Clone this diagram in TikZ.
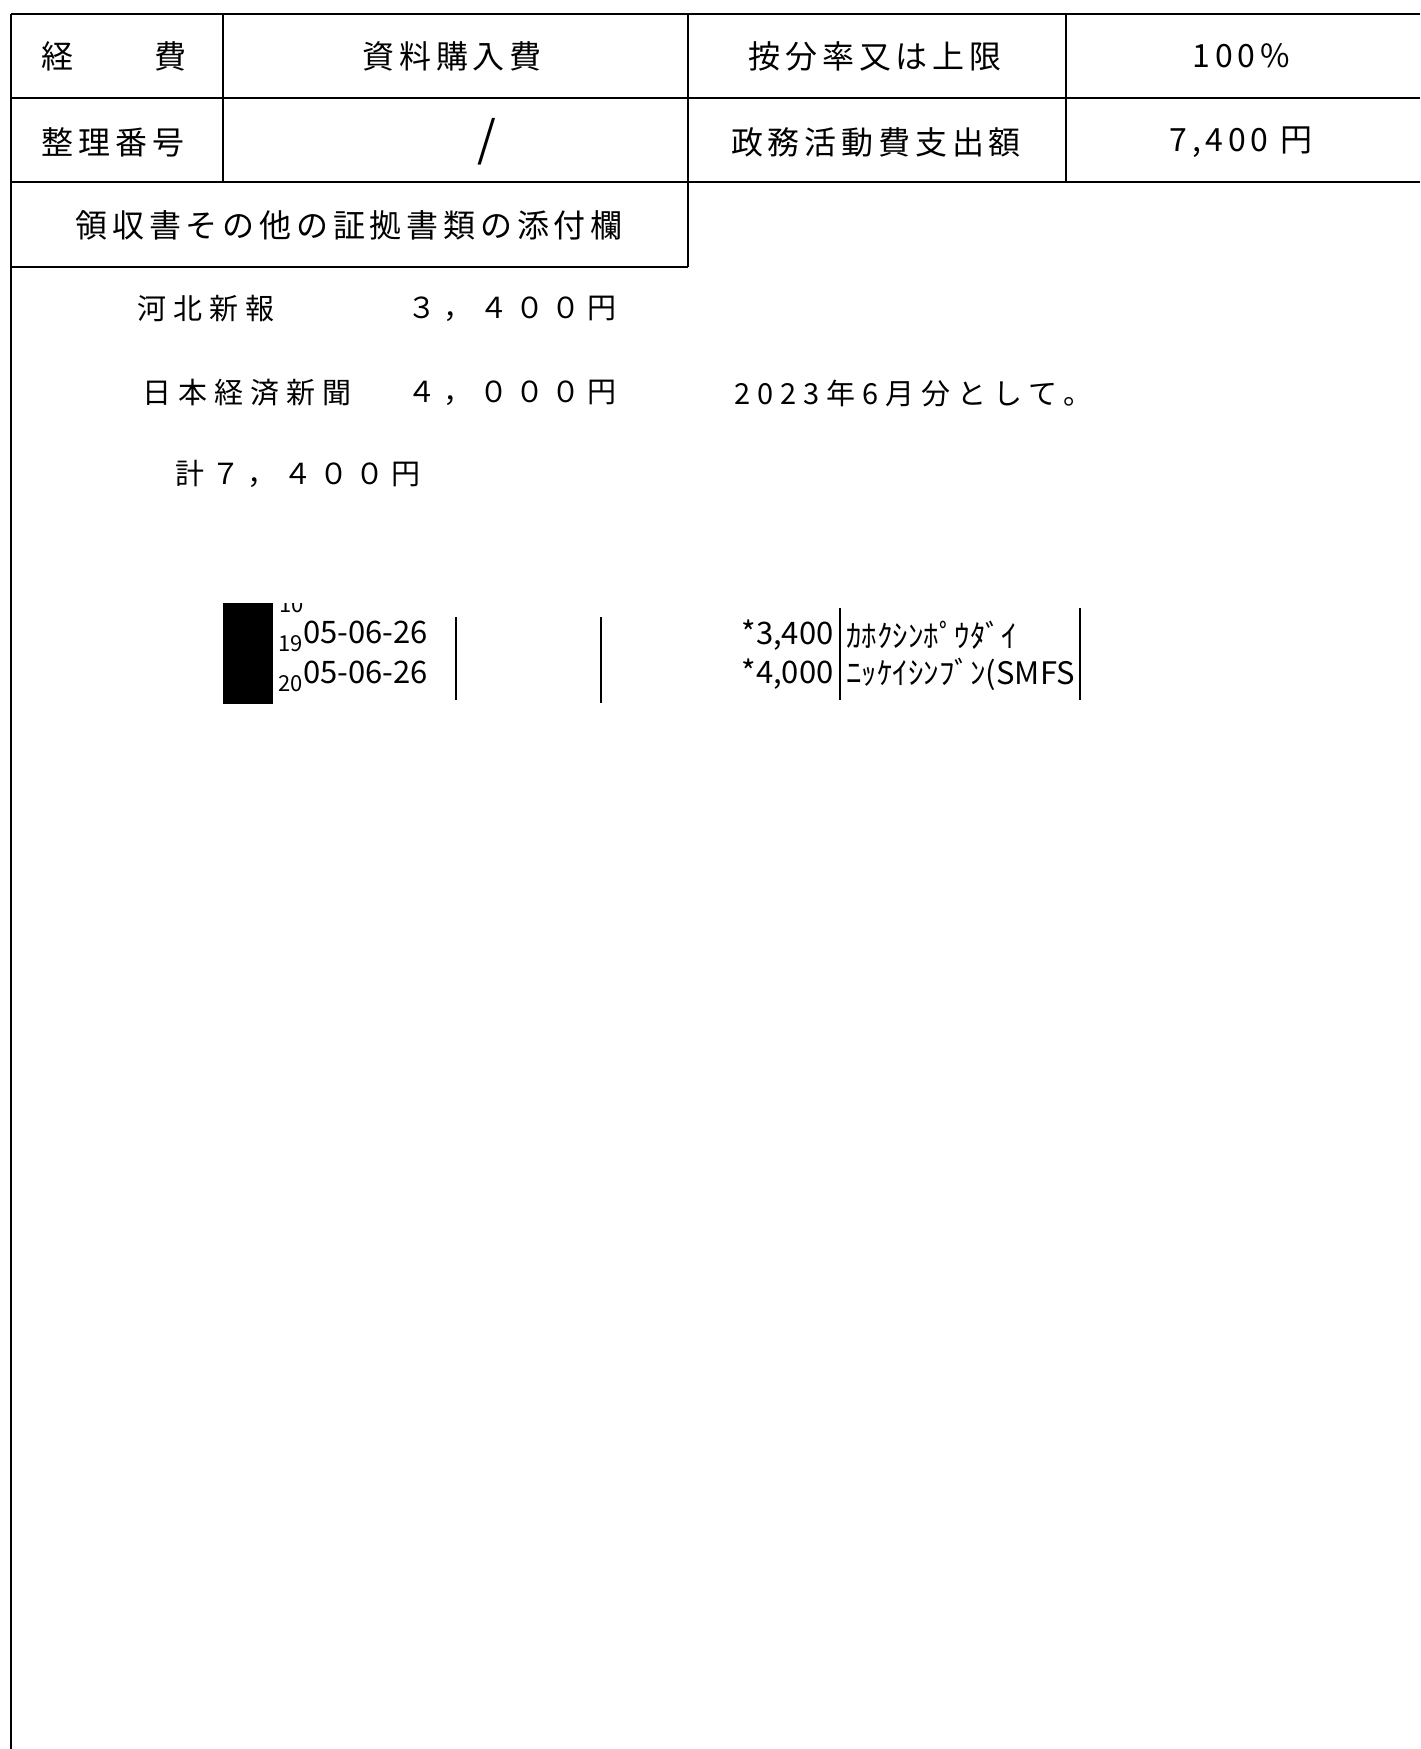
\documentclass[tikz,border=0pt]{standalone}
\usepackage{fontspec}
\setmainfont{Noto Sans CJK JP}
\newfontfamily\formfont[LetterSpace=15]{Noto Sans CJK JP}
\newfontfamily\memofont[LetterSpace=24]{Noto Sans CJK JP}
\newfontfamily\slipfont{Noto Sans CJK JP}
\usetikzlibrary{positioning}

\begin{document}
\begin{tikzpicture}[x=0.5pt, y=-0.5pt,
        rule/.style={line width=1pt},
        head/.style={font=\formfont\fontsize{16}{18}\selectfont, inner sep=0pt},
        memo/.style={font=\memofont\fontsize{14.5}{16}\selectfont, inner sep=0pt, anchor=west},
        slip/.style={font=\slipfont\fontsize{15.5}{16}\selectfont, inner sep=0pt},
        sub/.style={font=\slipfont\fontsize{11}{12}\selectfont, inner sep=0pt}]
    \useasboundingbox (0,0) rectangle (1420,1749);

    % form grid
    \draw[rule] (11,14.5) -- (1420,14.5);
    \draw[rule] (11,98) -- (1420,98);
    \draw[rule] (11,182) -- (1420,182);
    \draw[rule] (11,267) -- (688,267);
    \draw[rule] (11,14.5) -- (11,1749);
    \draw[rule] (223,14.5) -- (223,182);
    \draw[rule] (688,14.5) -- (688,267);
    \draw[rule] (1066,14.5) -- (1066,182);

    \node[head] (kei)    at (57,56)   {経};
    \node[head] (hi)     at (170,56)  {費};
    \node[head] (kind)   at (452,56)  {資料購入費};
    \node[head] (rate)   at (875,56)  {按分率又は上限};
    \node[head] (ratev)  at (1241,56) {100\%};
    \node[head] (num)    at (113,142) {整理番号};
    \node[head, font=\slipfont\fontsize{24}{24}\selectfont] (numv) at (487,142) {/};
    \node[head] (spent)  at (876,142) {政務活動費支出額};
    \node[head] (spentv) at (1241,142) {7,400 円};
    \node[head] (attach) at (349,225) {領収書その他の証拠書類の添付欄};

    % memo
    \node[memo] (kahoku)  at (137,309) {河北新報};
    \node[memo] (kahokuv) at (407,309) {３，４００円};
    \node[memo] (nikkei)  at (142,393) {日本経済新聞};
    \node[memo] (nikkeiv) at (407,393) {４，０００円};
    \node[memo] (month)   at (734,393) {2023年6月分として。};
    \node[memo] (total)   at (175,474) {計７，４００円};

    % receipt strip
    \fill (223,603) rectangle (273,704);
    \begin{scope}
        \clip (270,603) rectangle (330,616);
        \node[sub, anchor=base west] (d18) at (279,612) {10};
    \end{scope}
    \node[slip, anchor=west] (d19) at (303,632) {05-06-26};
    \node[slip, anchor=west] (d20) at (303,672) {05-06-26};
    \node[sub, anchor=base east] (n19) at ([yshift=-4pt]d19.base west) {19};
    \node[sub, anchor=base east] (n20) at ([yshift=-4pt]d20.base west) {20};
    \draw[rule] (456,617) -- (456,700);
    \draw[rule] (601,617) -- (601,703);

    \node[slip, anchor=east] (p1) at (834,635) {*3,400};
    \node[slip, anchor=east] (p2) at (834,674) {*4,000};
    \draw[rule] (840,608) -- (840,700);
    \node[slip, anchor=west] (k1) at (846,635) {ｶﾎｸｼﾝﾎﾟｳﾀﾞｲ};
    \node[slip, anchor=west] (k2) at (846,674) {ﾆｯｹｲｼﾝﾌﾞﾝ(SMFS};
    \draw[rule] (1080,608) -- (1080,700);
\end{tikzpicture}
\end{document}
